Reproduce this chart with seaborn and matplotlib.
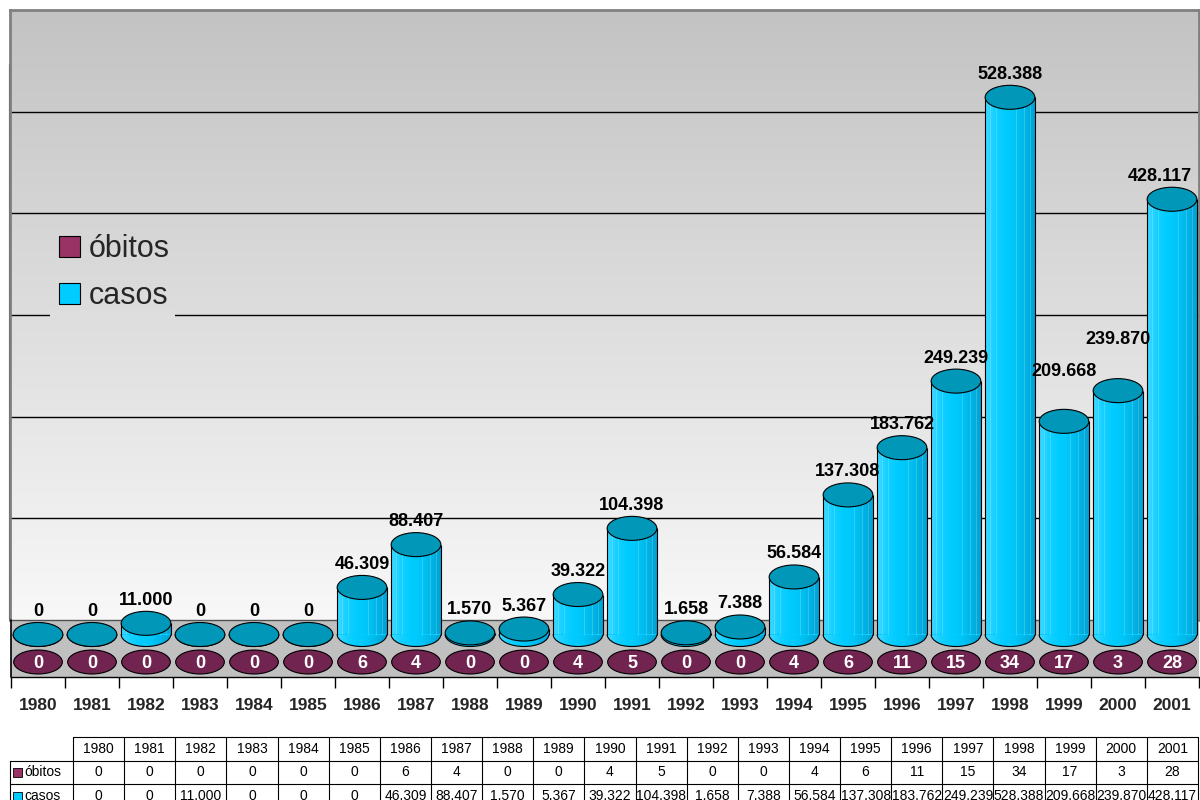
import numpy as np
import pandas as pd
import matplotlib
matplotlib.use("Agg")
import matplotlib.pyplot as plt
import seaborn as sns
from matplotlib.patches import Ellipse, Arc, Patch
from matplotlib.colors import LinearSegmentedColormap

# ---- data -------------------------------------------------------------
YEARS = [str(y) for y in range(1980, 2002)]
OBITOS = [0, 0, 0, 0, 0, 0, 6, 4, 0, 0, 4, 5, 0, 0, 4, 6, 11, 15, 34, 17, 3, 28]
CASOS = [0, 0, 11000, 0, 0, 0, 46309, 88407, 1570, 5367, 39322, 104398,
         1658, 7388, 56584, 137308, 183762, 249239, 528388, 209668, 239870, 428117]
SERIES = ["óbitos", "casos"]
Y_MAX = 600000
Y_STEP = 100000


def fmt(v):
    return f"{v:,}".replace(",", ".")


# ---- style ------------------------------------------------------------
sns.set_style("white")
plt.rcParams["font.family"] = ["Liberation Sans", "DejaVu Sans"]

PURPLE = "#722451"
PURPLE_KEY = "#993366"
CYAN = "#00ccff"
CYAN_TOP = "#0097b9"
FLOOR = "#c0c0c0"
BAR_W = 0.92
LABEL_LIFT = {"1999": 27, "2000": 28}   # extra px for crowded labels
LABEL_SHIFT = {"2001": -12}             # keep the last label inside the frame

W_PX, H_PX, DPI = 1200, 800, 100
fig = plt.figure(figsize=(W_PX / DPI, H_PX / DPI), dpi=DPI, facecolor="white")


def box(l, t, r, b):
    return [l / W_PX, 1 - b / H_PX, (r - l) / W_PX, (b - t) / H_PX]


# layout in pixels
LEFT, RIGHT = 10, 1199
WALL_TOP, WALL_BASE = 10, 620
ROW_BACK, ROW_FRONT = 634.5, 662
FLOOR_FRONT = 677
U = Y_MAX / (WALL_BASE - WALL_TOP)   # value units per pixel
WALL_LO, WALL_HI = 248, 195          # grey levels at wall bottom / top

# ---- back wall with gradient and gridlines ---------------------------
ax_wall = fig.add_axes(box(LEFT, WALL_TOP, RIGHT, WALL_BASE))
wall_cmap = LinearSegmentedColormap.from_list(
    "wall", [(WALL_LO / 255,) * 3, (WALL_HI / 255,) * 3])
ax_wall.imshow(np.linspace(0, 1, 256)[:, None], cmap=wall_cmap,
               extent=(0, 1, 0, Y_MAX), origin="lower", aspect="auto", zorder=0)
ax_wall.set_xlim(0, 1)
ax_wall.set_ylim(0, Y_MAX)
ax_wall.set_yticks(np.arange(Y_STEP, Y_MAX, Y_STEP))
ax_wall.set_xticks([])
ax_wall.set_yticklabels([])
ax_wall.tick_params(length=0)
ax_wall.set_axisbelow(True)
ax_wall.grid(axis="y", color="black", lw=1)
for s in ["top", "right", "left"]:
    ax_wall.spines[s].set_color("#808080")
    ax_wall.spines[s].set_linewidth(2)
ax_wall.spines["bottom"].set_visible(False)
ax_wall.plot([0, 0], [0, (WALL_BASE - 65) / (WALL_BASE - WALL_TOP)],
             transform=ax_wall.transAxes, color="black", lw=1.5, clip_on=False)

# legend area interrupts the gridline it sits on
leg_grid = 300000
leg_tone = (WALL_LO + (WALL_HI - WALL_LO) * leg_grid / Y_MAX) / 255
ax_wall.axhspan(leg_grid - 4 * U, leg_grid + 4 * U,
                xmin=(50 - LEFT) / (RIGHT - LEFT), xmax=(175 - LEFT) / (RIGHT - LEFT),
                facecolor=(leg_tone,) * 3, edgecolor="none", zorder=1)

# ---- main axes: floor + cylinders ------------------------------------
ax = fig.add_axes(box(LEFT + 1, WALL_TOP, RIGHT, FLOOR_FRONT))
ax.patch.set_alpha(0)

df = pd.DataFrame({"ano": YEARS, "casos": CASOS, "obitos": OBITOS})
sns.barplot(data=df, x="ano", y="casos", color=CYAN, saturation=1,
            width=BAR_W, linewidth=0, errorbar=None, ax=ax, zorder=3)

y_lo = -(FLOOR_FRONT - ROW_BACK) * U
y_hi = (ROW_BACK - WALL_TOP) * U
floor_top = (ROW_BACK - WALL_BASE) * U
EH = 24 * U  # ellipse height in value units

ax.axhspan(y_lo, floor_top, facecolor=FLOOR, edgecolor="none", zorder=1)
ax.axhline(floor_top, color="#505050", lw=1, zorder=1.5)
ax.plot([-0.5, -0.5], [y_lo, floor_top], color="black", lw=1.2, zorder=1.5,
        clip_on=False)

body_cmap = LinearSegmentedColormap.from_list(
    "body", ["#40d8ff", "#14d0ff", "#00ccff", "#00c6f8", "#00b6e8", "#00a2d4"])
body_grad = np.linspace(0, 1, 128)[None, :]

bars = list(ax.patches)
for patch, year, val in zip(bars, YEARS, CASOS):
    x0, w, h = patch.get_x(), patch.get_width(), patch.get_height()
    xc = x0 + w / 2
    # rounded bottom of the cylinder
    bottom = Ellipse((xc, 0), w, EH, facecolor=CYAN, edgecolor="none", zorder=2.5)
    ax.add_patch(bottom)
    im = ax.imshow(body_grad, cmap=body_cmap, extent=(x0, x0 + w, -EH / 2, EH / 2),
                   aspect="auto", zorder=2.6)
    im.set_clip_path(bottom)
    if h > 0:
        im = ax.imshow(body_grad, cmap=body_cmap, extent=(x0, x0 + w, 0, h),
                       aspect="auto", zorder=3.1)
        im.set_clip_path(patch)
        ax.vlines(x0 + w * np.array([0.1, 0.22, 0.62, 0.78, 0.9]), 0, h,
                  color="white", alpha=0.22, lw=0.6, zorder=3.2)
        ax.vlines([x0, x0 + w], 0, h, color="black", lw=0.8, zorder=4)
    ax.add_patch(Arc((xc, 0), w, EH, theta1=180, theta2=360,
                     color="black", lw=0.8, zorder=4))
    ax.add_patch(Ellipse((xc, h), w, EH, facecolor=CYAN_TOP, edgecolor="black",
                         lw=0.8, zorder=5))
    ax.text(xc + LABEL_SHIFT.get(year, 0) / 54, val + (23 + LABEL_LIFT.get(year, 0)) * U,
            fmt(val), ha="center", va="center", fontsize=13, fontweight="bold",
            color="black", zorder=8)

# front row: óbitos discs
front_base = -(ROW_FRONT - ROW_BACK) * U
for i, v in enumerate(OBITOS):
    ax.add_patch(Ellipse((i, front_base + v), BAR_W * 0.98, EH, facecolor=PURPLE,
                         edgecolor="black", lw=0.8, zorder=6))
    ax.text(i, front_base + v, str(v), ha="center", va="center_baseline",
            fontsize=13, fontweight="bold", color="white", zorder=7)

ax.set_xlim(-0.5, len(YEARS) - 0.5)
ax.set_ylim(y_lo, y_hi)
ax.set_xticks(range(len(YEARS)))
ax.set_xticklabels(YEARS, fontsize=12.5, fontweight="bold")
ax.set_xticks(np.arange(-0.5, len(YEARS), 1), minor=True)
ax.tick_params(axis="x", which="major", bottom=True, length=0, pad=15)
ax.tick_params(axis="x", which="minor", bottom=True, length=8, width=1,
               color="black", direction="out")
ax.set_yticks([])
ax.set_xlabel("")
ax.set_ylabel("")
for s in ["top", "right", "left"]:
    ax.spines[s].set_visible(False)
ax.spines["bottom"].set_color("black")
ax.spines["bottom"].set_linewidth(1)

handles = [Patch(facecolor=PURPLE_KEY, edgecolor="black", lw=0.8),
           Patch(facecolor=CYAN, edgecolor="black", lw=0.8)]
leg = ax.legend(handles, SERIES, loc="upper left",
                bbox_to_anchor=(50 / W_PX, 1 - 225 / H_PX),
                bbox_transform=fig.transFigure, fontsize=22, frameon=False,
                borderpad=0.3, borderaxespad=0,
                handlelength=0.68, handleheight=0.68, handletextpad=0.3,
                labelspacing=0.55)
leg.set_zorder(9)

# ---- data table ------------------------------------------------------
ax_tab = fig.add_axes([0, 0, 1, 1], zorder=-1)
ax_tab.set_xlim(0, W_PX)
ax_tab.set_ylim(H_PX, 0)
ax_tab.axis("off")

T_L, T_X0, T_X1 = 10, 73, 1198
T_Y = [737, 761, 784, 808]
col_w = (T_X1 - T_X0) / len(YEARS)
lc = dict(color="black", lw=0.8)
ax_tab.plot([T_X0, T_X1], [T_Y[0], T_Y[0]], **lc)
for y in T_Y[1:]:
    ax_tab.plot([T_L, T_X1], [y, y], **lc)
ax_tab.plot([T_L, T_L], [T_Y[1], T_Y[3]], **lc)
for k in range(len(YEARS) + 1):
    x = T_X0 + k * col_w
    ax_tab.plot([x, x], [T_Y[0], T_Y[3]], **lc)

tab_font = dict(fontsize=10, ha="center", va="center", color="black")
for k, year in enumerate(YEARS):
    xc = T_X0 + (k + 0.5) * col_w
    ax_tab.text(xc, (T_Y[0] + T_Y[1]) / 2, year, **tab_font)
    ax_tab.text(xc, (T_Y[1] + T_Y[2]) / 2, fmt(OBITOS[k]), **tab_font)
    ax_tab.text(xc, (T_Y[2] + T_Y[3]) / 2, fmt(CASOS[k]), **tab_font)

for r, (name, col) in enumerate(zip(SERIES, [PURPLE_KEY, CYAN])):
    yc = (T_Y[r + 1] + T_Y[r + 2]) / 2
    ax_tab.add_patch(plt.Rectangle((13, yc - 4.5), 9, 9, facecolor=col,
                                   edgecolor="black", lw=0.6))
    ax_tab.text(24, yc, name, fontsize=10, ha="left", va="center", color="black")

fig.savefig("out.png", dpi=DPI, facecolor="white")
